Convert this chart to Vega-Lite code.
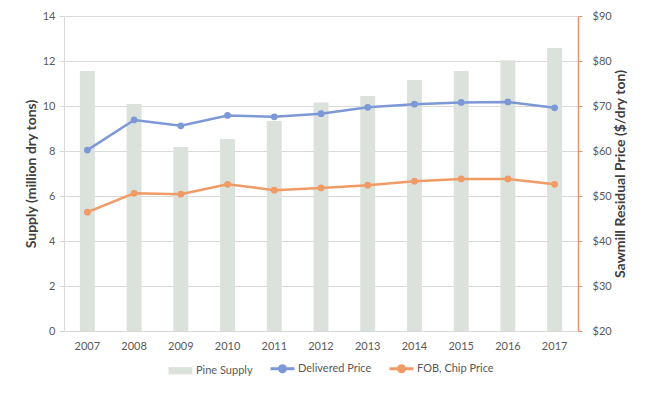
{
  "$schema": "https://vega.github.io/schema/vega-lite/v6.json",
  "width": 514,
  "height": 315,
  "autosize": "none",
  "padding": {"left": 64, "top": 16, "right": 72, "bottom": 63},
  "background": "white",
  "config": {
    "font": "Lato",
    "view": {"stroke": null},
    "axis": {"labelColor": "#595959", "labelFontSize": 11, "titleColor": "#404040", "titleFontSize": 14, "titleFontWeight": "bold"}
  },
  "data": {
    "values": [
      {"year": "2007", "supply": 11.56, "delivered": 60.2, "fob": 46.4},
      {"year": "2008", "supply": 10.09, "delivered": 66.9, "fob": 50.6},
      {"year": "2009", "supply": 8.18, "delivered": 65.6, "fob": 50.4},
      {"year": "2010", "supply": 8.53, "delivered": 67.9, "fob": 52.6},
      {"year": "2011", "supply": 9.33, "delivered": 67.6, "fob": 51.3},
      {"year": "2012", "supply": 10.16, "delivered": 68.3, "fob": 51.8},
      {"year": "2013", "supply": 10.44, "delivered": 69.7, "fob": 52.4},
      {"year": "2014", "supply": 11.16, "delivered": 70.4, "fob": 53.3},
      {"year": "2015", "supply": 11.56, "delivered": 70.8, "fob": 53.8},
      {"year": "2016", "supply": 12.03, "delivered": 70.9, "fob": 53.8},
      {"year": "2017", "supply": 12.58, "delivered": 69.6, "fob": 52.6}
    ]
  },
  "encoding": {
    "x": {
      "field": "year",
      "type": "ordinal",
      "scale": {"paddingInner": 0.68, "paddingOuter": 0.34},
      "axis": {"title": null, "labelAngle": 0, "ticks": false, "domainColor": "#d9d9d9", "labelPadding": 9}
    }
  },
  "layer": [
    {
      "mark": {"type": "bar"},
      "encoding": {
        "y": {
          "field": "supply",
          "type": "quantitative",
          "scale": {"domain": [0, 14]},
          "axis": {
            "title": "Supply (million dry tons)",
            "values": [0, 2, 4, 6, 8, 10, 12, 14],
            "grid": true,
            "gridColor": "#d9d9d9",
            "domainColor": "#d9d9d9",
            "tickColor": "#d9d9d9",
            "tickSize": 5,
            "labelPadding": 4,
            "titlePadding": 4
          }
        },
        "color": {
          "datum": "Pine Supply",
          "scale": {
            "domain": ["Pine Supply", "Delivered Price", "FOB, Chip Price"],
            "range": ["#dbe2dc", "#7d98d7", "#f09b65"]
          },
          "legend": {
            "orient": "none",
            "legendX": 111,
            "legendY": 347,
            "direction": "horizontal",
            "columns": 3,
            "title": null,
            "labelFontSize": 11,
            "labelColor": "#595959",
            "symbolSize": 576,
            "symbolStrokeWidth": 3,
            "columnPadding": 11,
            "labelOffset": 10,
            "encode": {
              "symbols": {
                "update": {
                  "shape": {"signal": "datum.value === 'Pine Supply' ? 'M-1,-0.3H1V0.3H-1Z' : 'M-1,0H1M0.25,0A0.25,0.25 0 1,1 -0.25,0A0.25,0.25 0 1,1 0.25,0'"},
                  "fill": {"scale": "color", "field": "value"},
                  "stroke": {"scale": "color", "field": "value"},
                  "strokeWidth": {"signal": "datum.value === 'Pine Supply' ? 0 : 3"},
                  "opacity": {"value": 1}
                }
              }
            }
          }
        }
      }
    },
    {
      "mark": {"type": "line", "strokeWidth": 2.5, "point": {"size": 45, "filled": true}},
      "encoding": {
        "y": {
          "field": "delivered",
          "type": "quantitative",
          "scale": {"domain": [20, 90]},
          "axis": {
            "orient": "right",
            "title": "Sawmill Residual Price ($/dry ton)",
            "titleAngle": 270,
            "titleBaseline": "top",
            "values": [20, 30, 40, 50, 60, 70, 80, 90],
            "format": "$.0f",
            "grid": false,
            "domainColor": "#e8936a",
            "domainWidth": 1.5,
            "tickColor": "#e8936a",
            "tickSize": 4,
            "labelPadding": 10,
            "titlePadding": 2
          }
        },
        "color": {"datum": "Delivered Price"}
      }
    },
    {
      "mark": {"type": "line", "strokeWidth": 2.5, "point": {"size": 45, "filled": true}},
      "encoding": {
        "y": {"field": "fob", "type": "quantitative", "scale": {"domain": [20, 90]}, "axis": null},
        "color": {"datum": "FOB, Chip Price"}
      }
    }
  ],
  "resolve": {"scale": {"y": "independent"}, "axis": {"y": "independent"}}
}
